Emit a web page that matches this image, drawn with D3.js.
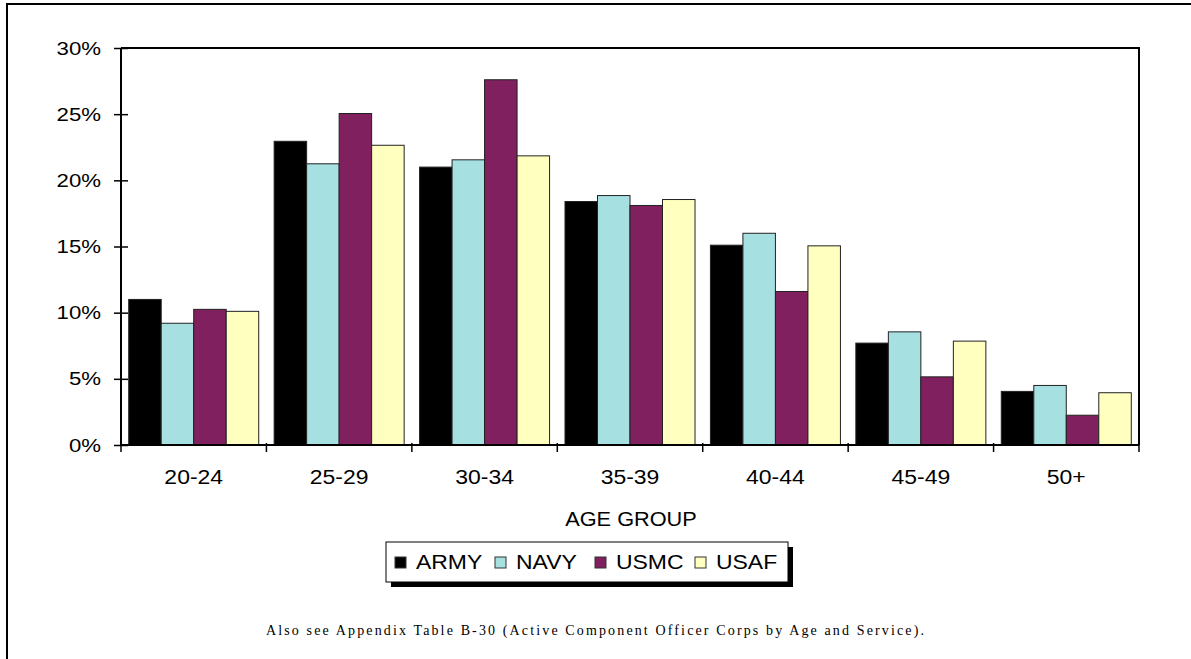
<!DOCTYPE html>
<html>
<head>
<meta charset="utf-8">
<script src="https://cdn.jsdelivr.net/npm/d3@7"></script>
<style>
  html, body { margin: 0; padding: 0; background: #fff; }
  svg { display: block; }
  text { font-family: "Liberation Sans", Arial, sans-serif; fill: #000; }
</style>
</head>
<body>
<svg id="chart" width="1191" height="659"></svg>
<script>
// Age groups on the x axis
const categories = ["20-24", "25-29", "30-34", "35-39", "40-44", "45-49", "50+"];
// Service names, in legend order
const services = ["ARMY", "NAVY", "USMC", "USAF"];
// Share of officers in each age group (percent)
const army = [11.0, 22.95, 21.0, 18.4, 15.1, 7.7, 4.05];
const navy = [9.2, 21.25, 21.55, 18.85, 16.0, 8.55, 4.5];
const usmc = [10.25, 25.05, 27.6, 18.1, 11.6, 5.15, 2.25];
const usaf = [10.1, 22.65, 21.85, 18.55, 15.05, 7.85, 3.95];
// Y axis tick values and labels
const yTicks = [0, 5, 10, 15, 20, 25, 30];
const yTickLabels = ["0%", "5%", "10%", "15%", "20%", "25%", "30%"];
const xTitle = "AGE GROUP";
const footnote = "Also see Appendix Table B-30 (Active Component Officer Corps by Age and Service).";

const seriesValues = { ARMY: army, NAVY: navy, USMC: usmc, USAF: usaf };
const colors = { ARMY: "#000000", NAVY: "#a6e0e0", USMC: "#80205f", USAF: "#ffffc0" };

const svg = d3.select("#chart");
const plot = { left: 121, right: 1139, top: 48, bottom: 445 };

// outer page frame (runs off the right and bottom edges)
svg.append("rect")
  .attr("x", 7).attr("y", 4).attr("width", 1300).attr("height", 800)
  .attr("fill", "none").attr("stroke", "#000").attr("stroke-width", 2);

const x0 = d3.scaleBand().domain(categories)
  .range([plot.left, plot.right]).paddingInner(0.106).paddingOuter(0.053);
const x1 = d3.scaleBand().domain(services).range([0, x0.bandwidth()]);
const y = d3.scaleLinear().domain([0, 30]).range([plot.bottom, plot.top]);

// horizontally stretched text helper
function stretchedText(g, x, yy, str, size, sx, anchor) {
  return g.append("text")
    .attr("transform", `translate(${x},${yy}) scale(${sx},1)`)
    .attr("text-anchor", anchor)
    .style("font-size", size + "px")
    .text(str);
}

// bars
const groups = svg.append("g").selectAll("g")
  .data(categories)
  .join("g")
  .attr("transform", d => `translate(${x0(d)},0)`);

groups.selectAll("rect")
  .data((c, i) => services.map(s => ({ s, v: seriesValues[s][i] })))
  .join("rect")
  .attr("x", d => x1(d.s))
  .attr("y", d => y(d.v))
  .attr("width", x1.bandwidth())
  .attr("height", d => y(0) - y(d.v))
  .attr("fill", d => colors[d.s])
  .attr("stroke", "#222")
  .attr("stroke-width", 1);

// plot frame: top and right edges
svg.append("path")
  .attr("d", `M${plot.left},${plot.top}H${plot.right}V${plot.bottom}`)
  .attr("fill", "none").attr("stroke", "#000").attr("stroke-width", 2);

// y axis with ticks crossing the line
const yAxis = svg.append("g").attr("transform", `translate(${plot.left},0)`)
  .call(d3.axisLeft(y).tickValues(yTicks).tickSize(7).tickFormat(""));
yAxis.select(".domain").attr("d", `M0,${plot.top}V${plot.bottom}`)
  .attr("stroke-width", 2);
yAxis.selectAll(".tick line").attr("x1", 7).attr("x2", -7)
  .attr("stroke-width", 1.5);
yTicks.forEach((t, i) => {
  stretchedText(svg, 101, y(t) + 6.5, yTickLabels[i], 18.5, 1.2, "end");
});

// x axis with boundary ticks between groups
const xAxis = svg.append("g").attr("transform", `translate(0,${plot.bottom})`);
xAxis.append("line")
  .attr("x1", plot.left).attr("x2", plot.right)
  .attr("stroke", "#000").attr("stroke-width", 2);
const step = x0.step();
xAxis.selectAll(".xtick")
  .data(d3.range(categories.length + 1))
  .join("line")
  .attr("class", "xtick")
  .attr("x1", i => plot.left + i * step).attr("x2", i => plot.left + i * step)
  .attr("y1", -2).attr("y2", 7)
  .attr("stroke", "#000").attr("stroke-width", 1.5);
categories.forEach(c => {
  stretchedText(svg, x0(c) + x0.bandwidth() / 2, 483.5, c, 20.5, 1.12, "middle");
});

// axis title
stretchedText(svg, 631, 525.5, xTitle, 20.5, 1.06, "middle");

// legend with drop shadow
const legend = { x: 386, y: 542, w: 402, h: 40 };
svg.append("rect")
  .attr("x", legend.x + 5).attr("y", legend.y + 5)
  .attr("width", legend.w).attr("height", legend.h)
  .attr("fill", "#000");
svg.append("rect")
  .attr("x", legend.x).attr("y", legend.y)
  .attr("width", legend.w).attr("height", legend.h)
  .attr("fill", "#fff").attr("stroke", "#000").attr("stroke-width", 1);
services.forEach((s, i) => {
  const lx = legend.x + 9 + i * 100;
  svg.append("rect")
    .attr("x", lx).attr("y", 557).attr("width", 11).attr("height", 11)
    .attr("fill", colors[s]).attr("stroke", "#333").attr("stroke-width", 1);
  stretchedText(svg, lx + 21, 568.5, s, 20.5, 1.12, "start");
});

// footnote
svg.append("text")
  .attr("x", 266).attr("y", 635)
  .attr("textLength", 658).attr("lengthAdjust", "spacing")
  .style("font-family", "'Liberation Serif', 'Times New Roman', serif")
  .style("font-size", "14px")
  .text(footnote);
</script>
</body>
</html>
